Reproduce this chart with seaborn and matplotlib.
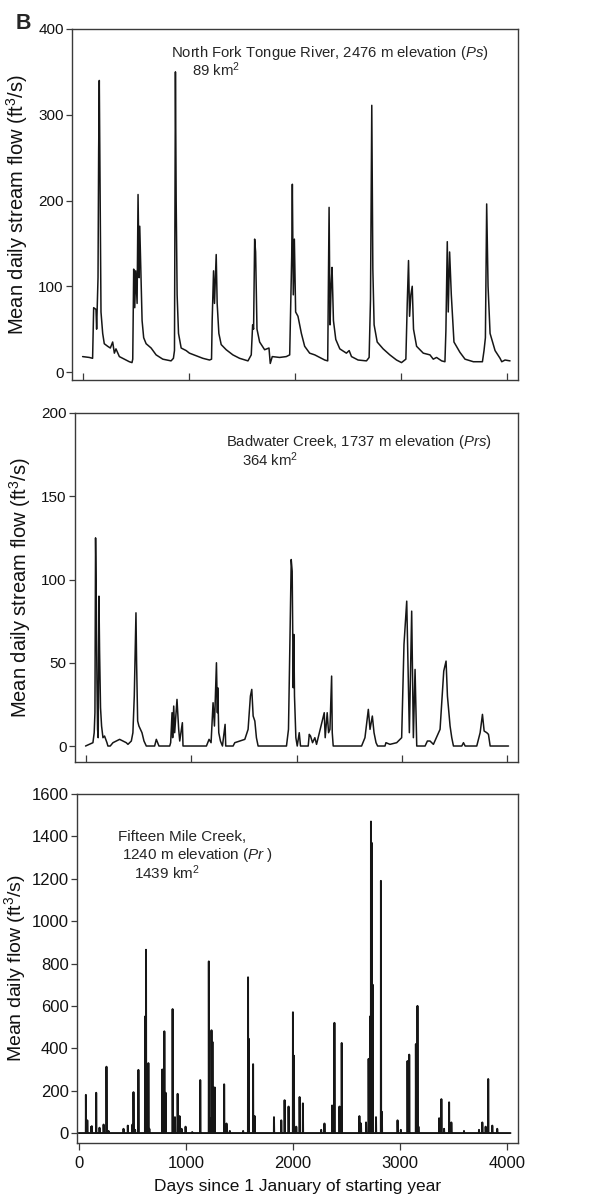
"""
Daily stream flow hydrographs for three Wyoming streams (panel B).
"""

import numpy as np
import pandas as pd
import matplotlib
matplotlib.use("Agg")
import matplotlib.pyplot as plt
import seaborn as sns

sns.set_theme(style="ticks")
plt.rcParams["font.family"] = ["Liberation Sans", "DejaVu Sans"]
plt.rcParams["mathtext.fontset"] = "custom"
plt.rcParams["mathtext.rm"] = "Liberation Sans"
plt.rcParams["mathtext.it"] = "Liberation Sans:italic"

tongue_day = [0, 63, 94, 104, 126, 132, 145, 151, 157, 164, 173, 189, 204, 236, 261, 283, 299, 314,
              346, 393, 440, 465, 472, 481, 491, 500, 513, 522, 532, 538, 547, 560, 575, 598, 645,
              692, 755, 833, 855, 865, 874, 881, 890, 903, 928, 975, 1006, 1069, 1132, 1195, 1214,
              1220, 1233, 1242, 1258, 1267, 1283, 1305, 1352, 1415, 1478, 1557, 1588, 1601, 1610,
              1620, 1629, 1642, 1667, 1714, 1755, 1767, 1786, 1855, 1918, 1950, 1962, 1969, 1975,
              1984, 1994, 2006, 2028, 2060, 2091, 2138, 2186, 2233, 2280, 2308, 2315, 2321, 2330,
              2340, 2349, 2362, 2384, 2422, 2484, 2510, 2532, 2594, 2673, 2698, 2711, 2723, 2733,
              2745, 2774, 2830, 2893, 2956, 3003, 3044, 3057, 3069, 3079, 3091, 3104, 3116, 3145,
              3208, 3271, 3302, 3333, 3381, 3412, 3421, 3434, 3443, 3456, 3472, 3497, 3553, 3601,
              3680, 3765, 3780, 3793, 3805, 3818, 3837, 3884, 3931, 3947, 3978, 4025]
tongue_flow = [18, 17, 16, 75, 73, 50, 110, 258, 340, 220, 70, 45, 33, 30, 28, 35, 22, 27,
               18, 15, 12, 11, 15, 120, 75, 118, 80, 207, 110, 170, 125, 60, 40, 33, 28,
               20, 15, 13, 16, 25, 350, 200, 90, 45, 28, 25, 22, 19, 16, 14, 15,
               60, 118, 80, 137, 80, 45, 32, 26, 20, 16, 13, 20, 55, 50,
               155, 140, 50, 35, 26, 28, 10, 18, 17, 18, 20, 90, 135, 219,
               90, 155, 70, 65, 45, 30, 22, 20, 17, 14, 13, 115, 192, 55,
               100, 122, 60, 38, 27, 22, 25, 18, 14, 13, 17, 85, 311, 120,
               55, 35, 27, 20, 14, 11, 15, 80, 130, 65, 90, 100, 50, 30,
               22, 20, 15, 17, 13, 12, 48, 152, 70, 140, 90, 35, 23, 15,
               12, 12, 25, 40, 196, 100, 45, 25, 16, 12, 14, 13]

# Badwater Creek
badwater_day = [0, 70, 82, 89, 95, 101, 108, 114, 120, 127, 133, 142, 152, 165, 180, 203, 212, 234,
                260, 291, 323, 354, 386, 402, 434, 449, 462, 472, 478, 484, 494, 506, 535, 554, 576,
                655, 671, 696, 798, 807, 820, 826, 836, 845, 867, 883, 893, 918, 924, 1146, 1171,
                1190, 1209, 1222, 1241, 1250, 1253, 1263, 1279, 1298, 1323, 1329, 1399, 1415, 1462,
                1510, 1541, 1563, 1576, 1589, 1605, 1620, 1636, 1905, 1924, 1934, 1940, 1950, 1959,
                1969, 1975, 1981, 1994, 2007, 2026, 2038, 2111, 2121, 2133, 2152, 2174, 2190, 2263,
                2272, 2291, 2304, 2317, 2333, 2339, 2348, 2617, 2649, 2681, 2697, 2719, 2735, 2754,
                2769, 2839, 2848, 2886, 2950, 2997, 3019, 3045, 3057, 3070, 3092, 3108, 3124, 3140,
                3219, 3241, 3266, 3298, 3361, 3396, 3418, 3431, 3456, 3472, 3488, 3567, 3583, 3599,
                3709, 3741, 3763, 3779, 3804, 3820, 3836, 4010]
badwater_flow = [0, 2, 8, 20, 125, 92, 40, 10, 5, 90, 57, 23, 12, 5, 6, 2, 0, 0,
                 2, 3, 4, 3, 2, 1, 3, 8, 30, 60, 80, 50, 15, 12, 8, 3, 0,
                 0, 4, 0, 0, 2, 20, 5, 24, 8, 28, 10, 3, 14, 0, 0, 4,
                 2, 26, 12, 50, 20, 35, 8, 3, 0, 13, 0, 0, 2, 3,
                 4, 10, 30, 34, 18, 15, 5, 0, 0, 10, 47, 72, 112, 105,
                 35, 67, 30, 5, 0, 8, 0, 0, 7, 6, 2, 5, 1, 20,
                 5, 20, 8, 10, 42, 8, 0, 0, 5, 22, 10, 18, 8, 2,
                 0, 0, 2, 1, 2, 5, 61, 87, 50, 8, 81, 5, 46, 0,
                 0, 3, 3, 1, 10, 45, 51, 30, 12, 5, 0, 0, 2, 0,
                 0, 8, 19, 9, 8, 7, 0, 0]

# Fifteen Mile Creek: storm peaks, zero flow on all other days
fifteen_peak_day = [68, 81, 118, 124, 164, 195, 233, 260, 279, 419, 459, 502, 512, 527, 558, 620,
                    629, 651, 660, 781, 800, 812, 877, 899, 924, 942, 961, 998, 1060, 1135, 1215,
                    1228, 1240, 1249, 1259, 1271, 1358, 1380, 1411, 1535, 1581, 1587, 1628, 1643,
                    1823, 1891, 1922, 1959, 2000, 2009, 2031, 2062, 2093, 2263, 2294, 2365, 2387,
                    2434, 2455, 2620, 2635, 2682, 2706, 2719, 2728, 2734, 2744, 2775, 2821, 2830,
                    2976, 3007, 3069, 3085, 3147, 3162, 3171, 3364, 3385, 3410, 3457, 3478, 3596,
                    3736, 3767, 3798, 3822, 3860, 3906]
fifteen_peak_flow = [180, 60, 30, 32, 190, 25, 40, 313, 10, 20, 35, 40, 193, 15, 298, 550,
                     865, 330, 20, 300, 480, 190, 585, 75, 185, 80, 20, 30, 5, 250, 810,
                     70, 485, 430, 215, 215, 230, 45, 10, 10, 735, 445, 325, 80,
                     75, 60, 155, 125, 570, 365, 30, 170, 140, 15, 45, 130, 520,
                     125, 425, 80, 45, 50, 350, 550, 1470, 1370, 700, 75, 1190, 100,
                     60, 15, 340, 370, 420, 600, 30, 70, 160, 20, 145, 50, 10,
                     15, 50, 30, 255, 35, 20]
fifteen_last_day = 4030

tongue = pd.DataFrame({"day": tongue_day, "flow": tongue_flow})
badwater = pd.DataFrame({"day": badwater_day, "flow": badwater_flow})
fifteen_days = np.arange(0, fifteen_last_day + 1)
fifteen_flow = np.zeros(len(fifteen_days))
fifteen_flow[fifteen_peak_day] = fifteen_peak_flow
fifteen = pd.DataFrame({"day": fifteen_days, "flow": fifteen_flow})

LINE = "#161616"
SPINE = "#3a3a3a"

W, H = 589, 1202
fig = plt.figure(figsize=(W / 100, H / 100), dpi=100)


def panel(left, top, right, bottom):
    return fig.add_axes([left / W, 1 - bottom / H, (right - left) / W, (bottom - top) / H])


ax1 = panel(72, 29, 518, 380)
ax2 = panel(75, 413, 518, 762)
ax3 = panel(77, 794, 518, 1143)

sns.lineplot(data=tongue, x="day", y="flow", ax=ax1, color=LINE, lw=1.1,
             estimator=None, sort=False)
sns.lineplot(data=badwater, x="day", y="flow", ax=ax2, color=LINE, lw=1.1,
             estimator=None, sort=False)
sns.lineplot(data=fifteen, x="day", y="flow", ax=ax3, color=LINE, lw=1.4,
             estimator=None, sort=False)

ax1.set_ylim(-9.3, 400)
ax1.set_yticks([0, 100, 200, 300, 400])
ax2.set_ylim(-9.6, 200)
ax2.set_yticks([0, 50, 100, 150, 200])
ax3.set_ylim(-47, 1600)
ax3.set_yticks(range(0, 1601, 200))

ax1.set_xlim(-100, 4100)
ax2.set_xlim(-100, 4100)
ax3.set_xlim(-15, 4100)

for ax in (ax1, ax2, ax3):
    ax.set_xticks([0, 1000, 2000, 3000, 4000])
    for s in ax.spines.values():
        s.set_color(SPINE)
        s.set_linewidth(1.0)
    ax.tick_params(axis="y", direction="out", length=4, width=0.9, color=SPINE,
                   labelsize=11, pad=2, labelcolor="#111111")
    ax.set_xlabel("")

for ax in (ax1, ax2):
    ax.tick_params(axis="x", direction="in", length=5, width=0.9, color=SPINE,
                   labelbottom=False)
    ax.set_ylabel(r"Mean daily stream flow (ft$^3$/s)", fontsize=14.5, color="#111111")

ax1.yaxis.set_label_coords(-0.094, 0.5)
ax2.yaxis.set_label_coords(-0.095, 0.5)

ax3.tick_params(axis="x", direction="out", length=5, width=0.9, color=SPINE,
                labelsize=12, pad=4, labelcolor="#111111")
ax3.tick_params(axis="y", labelsize=12)
ax3.set_ylabel(r"Mean daily flow (ft$^3$/s)", fontsize=14, color="#111111")
ax3.yaxis.set_label_coords(-0.11, 0.5)
ax3.set_xlabel("Days since 1 January of starting year", fontsize=12.5, labelpad=6,
               color="#111111")

# station labels
ax1.text(832, 367, r"North Fork Tongue River, 2476 m elevation ($\it{Ps}$)", fontsize=10.7)
ax1.text(1030, 345, r"89 km$^2$", fontsize=10.7)
ax2.text(1332, 180, r"Badwater Creek, 1737 m elevation ($\it{Prs}$)", fontsize=10.7)
ax2.text(1484, 168, r"364 km$^2$", fontsize=10.7)
ax3.text(367, 1378, "Fifteen Mile Creek,", fontsize=11)
ax3.text(404, 1293, r"1240 m elevation ($\it{Pr}$ )", fontsize=11)
ax3.text(516, 1199, r"1439 km$^2$", fontsize=11)

fig.text(16 / W, 1 - 29 / H, "B", fontsize=15.5, fontweight="bold")

fig.savefig("out.png", dpi=100)
plt.close(fig)
